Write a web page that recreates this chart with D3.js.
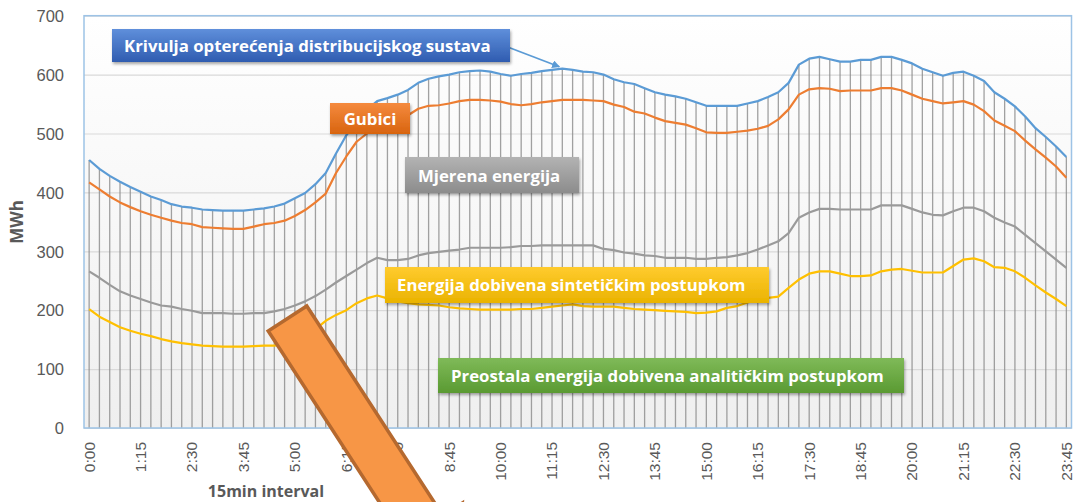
<!DOCTYPE html>
<html lang="hr">
<head>
<meta charset="utf-8">
<title>Krivulja opterećenja</title>
<script src="https://d3js.org/d3.v7.min.js"></script>
<style>
  body { margin: 0; background: #fff; }
  svg { display: block; font-family: "Open Sans", "DejaVu Sans", sans-serif; }
  .tick text { fill: #595959; }
  .lbl { fill: #fff; font-weight: 700; font-size: 16.8px; }
</style>
</head>
<body>
<script>
// 15-min intervals of one day
var times = d3.range(96).map(function(i) {
  return Math.floor(i / 4) + ":" + d3.format("02")((i % 4) * 15);
});
var tickLabels = ["0:00","1:15","2:30","3:45","5:00","6:15","7:30","8:45","10:00","11:15",
                  "12:30","13:45","15:00","16:15","17:30","18:45","20:00","21:15","22:30","23:45"];
var yTicks = [0, 100, 200, 300, 400, 500, 600, 700];

// Krivulja opterećenja distribucijskog sustava
var krivulja = [455,440,428,418,409,401,393,387,380,376,
                374,371,370,369,369,369,371,373,376,381,
                390,399,414,433,466,497,520,540,555,560,
                566,574,586,593,597,600,604,606,607,605,
                601,598,601,603,606,608,610,608,605,604,
                600,592,587,584,577,570,566,563,559,553,
                547,547,547,547,551,555,562,570,586,617,
                627,630,626,622,622,625,625,630,630,625,
                619,610,604,598,603,605,598,589,570,559,
                546,529,509,494,478,460];
// Gubici
var gubici = [417,405,393,383,375,368,362,357,352,348,
              346,341,340,339,338,338,342,346,348,352,
              360,370,383,398,433,461,486,500,512,520,
              526,531,542,547,548,551,555,557,557,556,
              554,550,548,550,553,555,557,557,557,556,
              555,549,545,537,534,527,521,518,515,509,
              502,501,501,503,505,508,513,524,541,566,
              575,577,576,572,573,573,573,577,577,573,
              566,559,555,551,553,555,549,538,522,513,
              504,488,473,459,444,425];
// Mjerena energija
var mjerena = [266,255,243,232,225,219,213,208,206,202,
               199,195,195,195,194,194,195,195,198,202,
               208,215,224,235,247,258,269,280,289,285,
               285,287,293,297,299,301,303,306,306,306,
               306,307,309,309,310,310,310,310,310,310,
               304,302,298,296,293,292,289,289,289,287,
               287,289,290,293,297,303,310,317,331,357,
               366,372,372,371,371,371,371,378,378,378,
               372,366,362,361,368,374,374,368,357,349,
               342,328,314,300,286,272];
// Energija dobivena sintetičkim postupkom
var sinteticka = [202,189,180,171,165,160,156,151,147,144,
                  142,140,139,138,138,138,139,140,140,142,
                  146,155,168,182,192,200,212,220,225,220,
                  215,212,210,209,208,205,203,202,201,201,
                  201,201,202,202,204,206,208,210,207,206,
                  206,206,204,202,201,200,199,198,197,195,
                  196,198,204,207,213,218,221,223,238,252,
                  262,266,266,262,258,258,259,266,269,270,
                  267,264,264,264,275,286,288,283,273,272,
                  266,255,242,230,219,207];

var series = [
  { name: "Krivulja", values: krivulja, color: "#5b9bd5" },
  { name: "Gubici", values: gubici, color: "#ed7d31" },
  { name: "Mjerena", values: mjerena, color: "#9a9a9a" },
  { name: "Sinteticka", values: sinteticka, color: "#ffc000" }
];

var W = 1073, H = 502;
var plot = { left: 84, right: 1071.5, top: 15.7, bottom: 428 };

var svg = d3.select("body").append("svg").attr("width", W).attr("height", H);
var defs = svg.append("defs");

function grad(id, c1, c2) {
  var g = defs.append("linearGradient").attr("id", id)
    .attr("x1", 0).attr("y1", 0).attr("x2", 0).attr("y2", 1);
  g.append("stop").attr("offset", "0%").attr("stop-color", c1);
  g.append("stop").attr("offset", "100%").attr("stop-color", c2);
}
grad("bg", "#ffffff", "#efefef");
grad("gBlue", "#5f8fdb", "#2f5cb0");
grad("gOrange", "#f58a3e", "#d8640f");
grad("gGray", "#b3b3b3", "#8c8c8c");
grad("gYellow", "#ffcb2e", "#eab300");
grad("gGreen", "#7fba58", "#5a9a32");

var f = defs.append("filter").attr("id", "shadow").attr("x", "-10%").attr("y", "-20%")
  .attr("width", "120%").attr("height", "160%");
f.append("feDropShadow").attr("dx", 1).attr("dy", 2).attr("stdDeviation", 1.5)
  .attr("flood-color", "#000").attr("flood-opacity", 0.35);

var x = d3.scaleBand().domain(d3.range(96)).range([plot.left, plot.right]);
var y = d3.scaleLinear().domain([0, 700]).range([plot.bottom, plot.top]);
function cx(i) { return x(i) + x.bandwidth() / 2; }

// plot area background
svg.append("rect")
  .attr("x", plot.left).attr("y", plot.top)
  .attr("width", plot.right - plot.left).attr("height", plot.bottom - plot.top)
  .attr("fill", "url(#bg)");

// gridlines
svg.append("g")
  .attr("transform", "translate(" + plot.left + ",0)")
  .call(d3.axisLeft(y).tickValues(yTicks).tickSize(-(plot.right - plot.left)).tickFormat(""))
  .call(function(g) {
    g.select(".domain").remove();
    g.selectAll("line").attr("stroke", "#d9d9d9").attr("stroke-width", 1.2);
  });

// y axis labels
svg.append("g")
  .attr("transform", "translate(" + (plot.left - 20) + ",0)")
  .call(d3.axisLeft(y).tickValues(yTicks).tickSize(0))
  .call(function(g) {
    g.select(".domain").remove();
    g.selectAll("text").attr("font-size", 16.5).attr("x", 0).attr("dy", "0.35em");
  });

// x axis labels
svg.append("g")
  .attr("transform", "translate(0," + plot.bottom + ")")
  .call(d3.axisBottom(x).tickValues(d3.range(0, 96, 5)).tickSize(0)
    .tickFormat(function(i) { return tickLabels[i / 5]; }))
  .call(function(g) {
    g.select(".domain").remove();
    g.selectAll("text")
      .attr("font-size", 15.5)
      .attr("transform", "rotate(-90)")
      .attr("text-anchor", "end")
      .attr("x", -14).attr("y", 0).attr("dy", "0.35em");
  });

// axis titles
svg.append("text")
  .attr("transform", "translate(23,222) rotate(-90)")
  .attr("text-anchor", "middle")
  .attr("font-size", 17).attr("font-weight", 700).attr("fill", "#595959")
  .text("MWh");
svg.append("text")
  .attr("x", 266).attr("y", 497)
  .attr("text-anchor", "middle")
  .attr("font-size", 16).attr("font-weight", 700).attr("fill", "#595959")
  .text("15min interval");

// drop lines
svg.append("g").selectAll("line")
  .data(krivulja)
  .join("line")
  .attr("x1", function(d, i) { return cx(i); })
  .attr("x2", function(d, i) { return cx(i); })
  .attr("y1", function(d) { return y(d); })
  .attr("y2", y(0))
  .attr("stroke", "#8a8a8a")
  .attr("stroke-opacity", 0.8)
  .attr("stroke-width", 1.3);

// plot border
svg.append("rect")
  .attr("x", plot.left).attr("y", plot.top)
  .attr("width", plot.right - plot.left).attr("height", plot.bottom - plot.top)
  .attr("fill", "none").attr("stroke", "#9dc3e6").attr("stroke-width", 1.5);

// series lines
var line = d3.line()
  .x(function(d, i) { return cx(i); })
  .y(function(d) { return y(d); });

svg.append("g").selectAll("path")
  .data(series.slice().reverse())
  .join("path")
  .attr("d", function(s) { return line(s.values); })
  .attr("fill", "none")
  .attr("stroke", function(s) { return s.color; })
  .attr("stroke-width", 2.2)
  .attr("stroke-linejoin", "round");

// callout labels
function label(x0, y0, w, h, fill, txt, tx, ty, anchor) {
  svg.append("rect").attr("x", x0).attr("y", y0).attr("width", w).attr("height", h)
    .attr("fill", fill).attr("filter", "url(#shadow)");
  svg.append("text").attr("class", "lbl").attr("x", tx).attr("y", ty)
    .attr("text-anchor", anchor || "start").text(txt);
}

// pointer from the blue label to its curve
defs.append("marker").attr("id", "arrowBlue")
  .attr("viewBox", "0 0 10 10").attr("refX", 9).attr("refY", 5)
  .attr("markerWidth", 5).attr("markerHeight", 5).attr("orient", "auto")
  .append("path").attr("d", "M0,0 L10,5 L0,10 z").attr("fill", "#5b9bd5");
svg.append("line")
  .attr("x1", 505).attr("y1", 46)
  .attr("x2", cx(46) - 3).attr("y2", y(krivulja[46]) - 2)
  .attr("stroke", "#5b9bd5").attr("stroke-width", 1.6)
  .attr("marker-end", "url(#arrowBlue)");

label(112, 29, 398, 33, "url(#gBlue)", "Krivulja opterećenja distribucijskog sustava", 124, 52);
label(330, 103, 80, 31, "url(#gOrange)", "Gubici", 370, 125, "middle");
label(405, 157, 174, 36, "url(#gGray)", "Mjerena energija", 418, 182);
label(385, 267, 384, 36, "url(#gYellow)", "Energija dobivena sintetičkim postupkom", 397, 291);
label(438, 358, 466, 35, "url(#gGreen)", "Preostala energija dobivena analitičkim postupkom", 451, 382);

// big orange arrow
var ang = 57;
svg.append("g")
  .attr("transform", "translate(287.5,318.5) rotate(" + ang + ")")
  .append("path")
  .attr("d", "M0,-23 L250,-23 L250,-46 L310,0 L250,46 L250,23 L0,23 Z")
  .attr("fill", "#f79646")
  .attr("stroke", "#b5692f")
  .attr("stroke-width", 3.5)
  .attr("stroke-linejoin", "miter");
</script>
</body>
</html>
